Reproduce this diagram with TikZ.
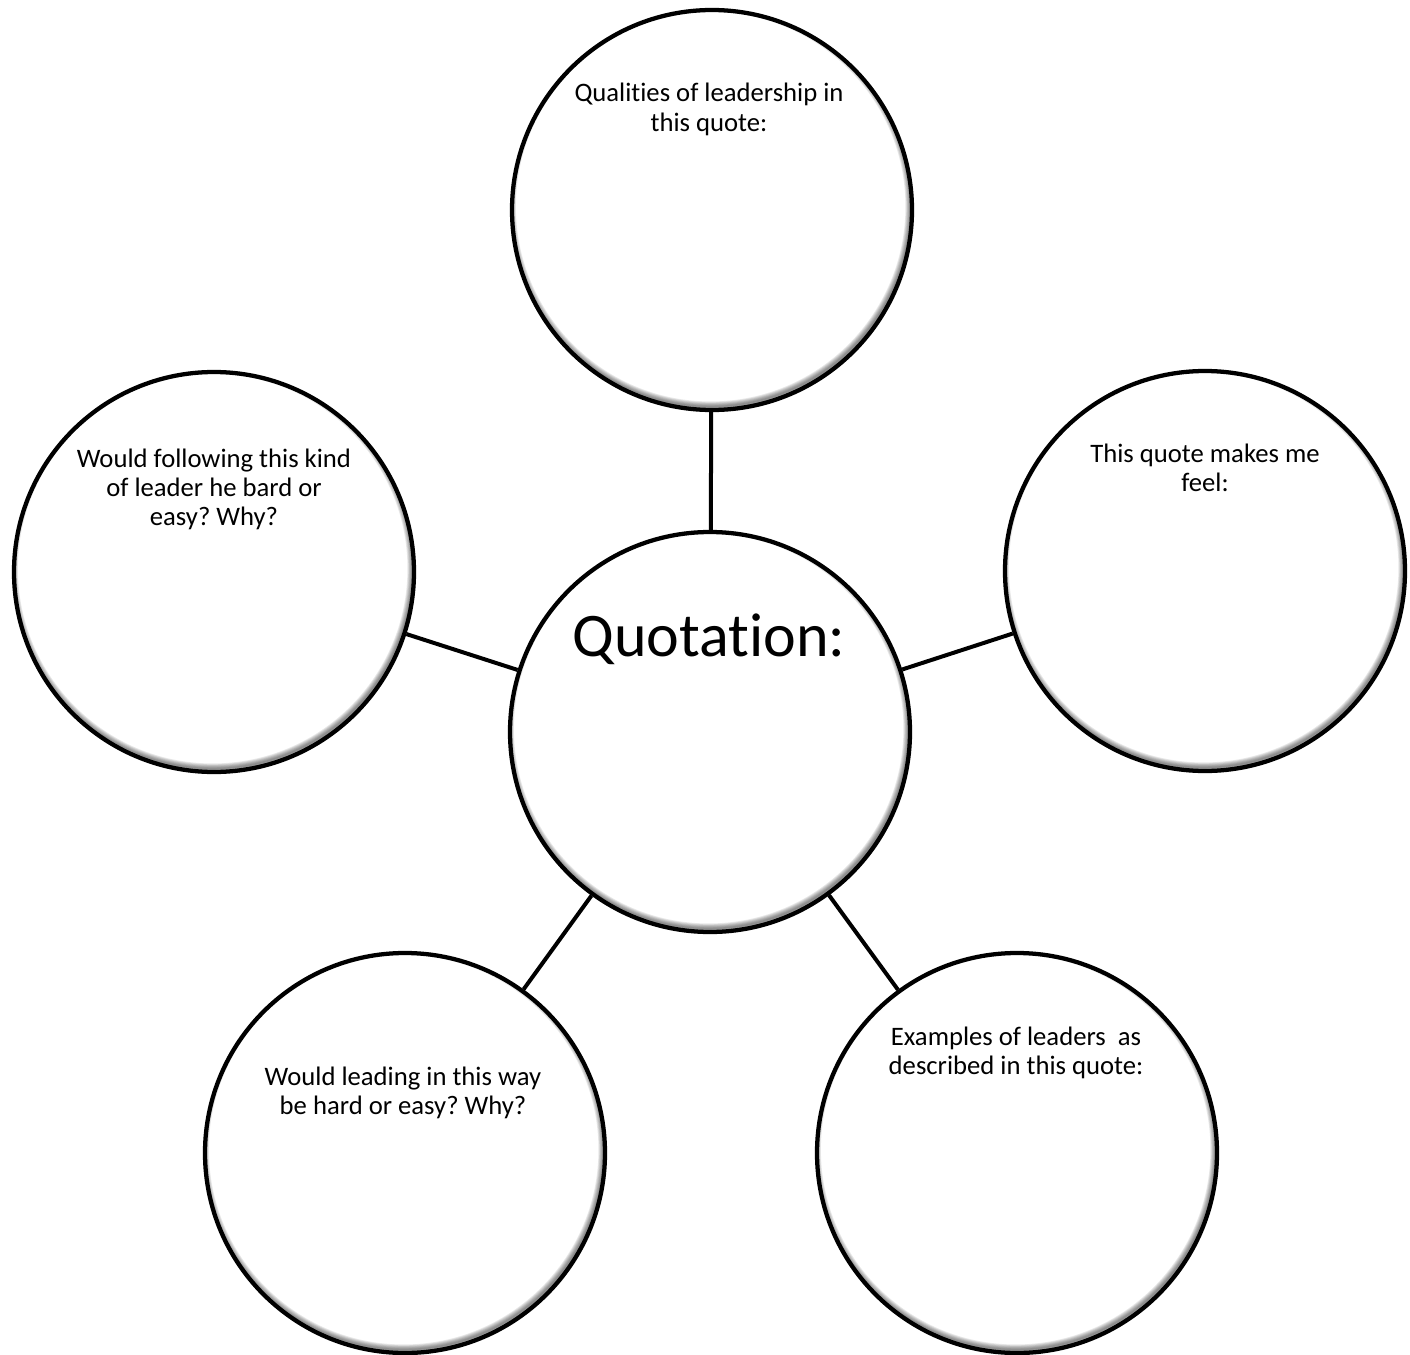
\documentclass[tikz,border=0pt]{standalone}
\usepackage{fontspec}
\setmainfont{Carlito}[Ligatures=CommonOff]
\frenchspacing
\newcommand{\bubbletext}[1]{\parbox[t]{320pt}{\centering\fontsize{20}{22}\selectfont #1}}
\begin{document}
\begin{tikzpicture}[x=0.75pt,y=-0.75pt,
  bubble/.style={circle, draw=black, line width=3.2pt, minimum size=300pt, inner sep=0pt, fill=white,
    path picture={
      \foreach \k in {1,...,6}
        \draw[black, opacity=0.09, line width=\k*1.3pt]
          ([shift={(-1pt,2.5pt)}]path picture bounding box.center) circle (150pt);
    }},
  link/.style={draw=black, line width=3pt},
  label/.style={anchor=base, inner sep=0pt}]
\useasboundingbox (0,0) rectangle (1410,1355);
\node[bubble] (top) at (712,210) {};
\node[bubble] (left) at (214,572) {};
\node[bubble] (right) at (1205,571) {};
\node[bubble] (bl) at (405,1153) {};
\node[bubble] (br) at (1017,1153) {};
\node[bubble] (mid) at (710,732) {};
\draw[link] (mid) -- (top);
\draw[link] (mid) -- (left);
\draw[link] (mid) -- (right);
\draw[link] (mid) -- (bl);
\draw[link] (mid) -- (br);
\node[label] (toptext) at (709,102) {\bubbletext{Qualities of leadership in\\ this quote:}};
\node[label] (lefttext) at (214,467) {\bubbletext{Would following this kind\\ of leader he bard or\\ easy? Why?}};
\node[label] (righttext) at (1205,462) {\bubbletext{This quote makes me\\ feel:}};
\node[label] (bltext) at (403,1085) {\bubbletext{Would leading in this way\\ be hard or easy? Why?}};
\node[label] (brtext) at (1016,1045) {\bubbletext{Examples of leaders~ as\\ described in this quote:}};
\node[label, font=\fontsize{46.5}{54}\selectfont] (quote) at (709,656) {Quotation:};
\end{tikzpicture}
\end{document}
